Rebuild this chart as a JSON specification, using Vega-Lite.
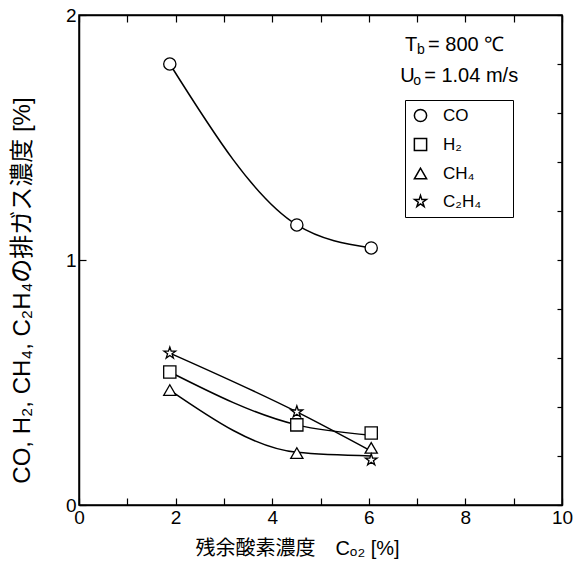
{
  "$schema": "https://vega.github.io/schema/vega-lite/v6.json",
  "width": 483,
  "height": 490,
  "autosize": "none",
  "padding": {"left": 79, "top": 15, "right": 13, "bottom": 67},
  "background": "white",
  "config": {
    "view": {"stroke": "black", "strokeWidth": 1.5},
    "font": "Liberation Sans",
    "axis": {
      "grid": false,
      "domainColor": "black",
      "domainWidth": 1.5,
      "tickColor": "black",
      "tickWidth": 1.2,
      "labelColor": "black",
      "titleColor": "black",
      "labelFontSize": 19,
      "labelFont": "Liberation Sans Narrow, Liberation Sans, sans-serif",
      "titleFont": "Liberation Sans, DejaVu Sans, Noto Sans CJK JP",
      "titleFontWeight": "normal",
      "titleFontSize": 20
    }
  },
  "datasets": {
    "points": [
      {"gas": "CO", "o2": 1.88, "conc": 1.80},
      {"gas": "CO", "o2": 4.51, "conc": 1.143},
      {"gas": "CO", "o2": 6.05, "conc": 1.049},
      {"gas": "H₂", "o2": 1.88, "conc": 0.543},
      {"gas": "H₂", "o2": 4.51, "conc": 0.327},
      {"gas": "H₂", "o2": 6.05, "conc": 0.294},
      {"gas": "CH₄", "o2": 1.88, "conc": 0.469},
      {"gas": "CH₄", "o2": 4.51, "conc": 0.212},
      {"gas": "CH₄", "o2": 6.05, "conc": 0.233},
      {"gas": "C₂H₄", "o2": 1.88, "conc": 0.62},
      {"gas": "C₂H₄", "o2": 4.51, "conc": 0.38},
      {"gas": "C₂H₄", "o2": 6.05, "conc": 0.184}
    ],
    "curves": [
      {"gas": "CO", "o2": 1.88, "conc": 1.80},
      {"gas": "CO", "o2": 4.51, "conc": 1.143},
      {"gas": "CO", "o2": 6.05, "conc": 1.049},
      {"gas": "H₂", "o2": 1.88, "conc": 0.543},
      {"gas": "H₂", "o2": 4.51, "conc": 0.327},
      {"gas": "H₂", "o2": 6.05, "conc": 0.285},
      {"gas": "CH₄", "o2": 1.88, "conc": 0.469},
      {"gas": "CH₄", "o2": 4.51, "conc": 0.215},
      {"gas": "CH₄", "o2": 6.05, "conc": 0.20},
      {"gas": "C₂H₄", "o2": 1.88, "conc": 0.62},
      {"gas": "C₂H₄", "o2": 4.51, "conc": 0.38},
      {"gas": "C₂H₄", "o2": 6.05, "conc": 0.22}
    ],
    "one": [{}]
  },
  "layer": [
    {
      "data": {"name": "curves"},
      "mark": {"type": "line", "interpolate": "monotone", "color": "black", "strokeWidth": 1.5},
      "encoding": {
        "x": {
          "field": "o2", "type": "quantitative",
          "scale": {"domain": [0, 10], "nice": false, "zero": false},
          "axis": {
            "orient": "bottom",
            "values": [0, 1, 2, 3, 4, 5, 6, 7, 8, 9, 10],
            "labelExpr": "datum.value % 2 === 0 ? datum.label : ''",
            "tickSize": -7,
            "labelPadding": 10,
            "labelFlush": false,
            "title": "残余酸素濃度　Cₒ₂ [%]",
            "titleX": 218,
            "titleY": 43,
            "titleBaseline": "middle"
          }
        },
        "y": {
          "field": "conc", "type": "quantitative",
          "scale": {"domain": [0, 2], "nice": false},
          "axis": {
            "orient": "left",
            "values": [0, 1, 2],
            "labelExpr": "datum.value + ''",
            "labelOverlap": false,
            "tickSize": -7,
            "labelPadding": 10,
            "labelFlush": false,
            "title": "CO, H₂, CH₄, C₂H₄の排ガス濃度 [%]",
            "titleFontSize": 24,
            "titleX": -57,
            "titleY": 275,
            "titleAngle": -90,
            "titleAlign": "center",
            "titleBaseline": "middle"
          }
        },
        "detail": {"field": "gas"}
      }
    },
    {
      "data": {"name": "points"},
      "mark": {"type": "point", "filled": true, "fill": "white", "stroke": "black", "strokeWidth": 1.3, "size": 150, "opacity": 1},
      "encoding": {
        "x": {
          "field": "o2", "type": "quantitative",
          "axis": {"orient": "top", "values": [0, 1, 2, 3, 4, 5, 6, 7, 8, 9, 10], "labels": false, "tickSize": -7, "title": null}
        },
        "y": {
          "field": "conc", "type": "quantitative",
          "axis": {"orient": "right", "values": [0, 0.2, 0.4, 0.6, 0.8, 1, 1.2, 1.4, 1.6, 1.8, 2], "labels": false, "tickSize": -5, "title": null}
        },
        "shape": {
          "field": "gas", "type": "nominal",
          "scale": {
            "domain": ["CO", "H₂", "CH₄", "C₂H₄"],
            "range": ["circle", "square", "triangle-up", "M0,-1L0.225,-0.309L0.951,-0.309L0.363,0.118L0.588,0.809L0,0.382L-0.588,0.809L-0.363,0.118L-0.951,-0.309L-0.225,-0.309Z"]
          },
          "legend": {
            "orient": "none",
            "legendX": 326,
            "legendY": 85,
            "title": "xxxx",
            "titleOrient": "right",
            "titleColor": "white",
            "titleFontSize": 11,
            "titlePadding": 0,
            "strokeColor": "black",
            "fillColor": "white",
            "padding": 7,
            "rowPadding": 10,
            "labelFontSize": 17,
            "labelFont": "Liberation Sans, DejaVu Sans",
            "labelColor": "black",
            "labelOffset": 14,
            "symbolSize": 150,
            "encode": {
              "symbols": {
                "update": {
                  "stroke": {"value": "black"},
                  "fill": {"value": "white"},
                  "strokeWidth": {"value": 1.3},
                  "opacity": {"value": 1}
                }
              }
            }
          }
        }
      }
    },
    {
      "data": {"name": "one"},
      "mark": {"type": "text", "align": "left", "baseline": "middle", "fontSize": 20, "font": "Liberation Sans Narrow, Liberation Sans, sans-serif", "color": "black"},
      "encoding": {
        "x": {"datum": 6.75, "type": "quantitative", "axis": null},
        "y": {"datum": 1.877, "type": "quantitative", "axis": null},
        "text": {"value": "T"}
      }
    },
    {
      "data": {"name": "one"},
      "mark": {"type": "text", "align": "left", "baseline": "middle", "fontSize": 14, "dx": 12, "dy": 5, "font": "Liberation Sans", "color": "black"},
      "encoding": {
        "x": {"datum": 6.75, "type": "quantitative", "axis": null},
        "y": {"datum": 1.877, "type": "quantitative", "axis": null},
        "text": {"value": "b"}
      }
    },
    {
      "data": {"name": "one"},
      "mark": {"type": "text", "align": "left", "baseline": "middle", "fontSize": 20, "dx": 23, "font": "Liberation Sans Narrow, Liberation Sans, sans-serif", "color": "black"},
      "encoding": {
        "x": {"datum": 6.75, "type": "quantitative", "axis": null},
        "y": {"datum": 1.877, "type": "quantitative", "axis": null},
        "text": {"value": "= 800 ℃"}
      }
    },
    {
      "data": {"name": "one"},
      "mark": {"type": "text", "align": "left", "baseline": "middle", "fontSize": 20, "font": "Liberation Sans Narrow, Liberation Sans, sans-serif", "color": "black"},
      "encoding": {
        "x": {"datum": 6.65, "type": "quantitative", "axis": null},
        "y": {"datum": 1.751, "type": "quantitative", "axis": null},
        "text": {"value": "U"}
      }
    },
    {
      "data": {"name": "one"},
      "mark": {"type": "text", "align": "left", "baseline": "middle", "fontSize": 14, "dx": 13, "dy": 5, "font": "Liberation Sans", "color": "black"},
      "encoding": {
        "x": {"datum": 6.65, "type": "quantitative", "axis": null},
        "y": {"datum": 1.751, "type": "quantitative", "axis": null},
        "text": {"value": "o"}
      }
    },
    {
      "data": {"name": "one"},
      "mark": {"type": "text", "align": "left", "baseline": "middle", "fontSize": 20, "dx": 24, "font": "Liberation Sans Narrow, Liberation Sans, sans-serif", "color": "black"},
      "encoding": {
        "x": {"datum": 6.65, "type": "quantitative", "axis": null},
        "y": {"datum": 1.751, "type": "quantitative", "axis": null},
        "text": {"value": "= 1.04 m/s"}
      }
    }
  ],
  "resolve": {"axis": {"x": "independent", "y": "independent"}}
}
